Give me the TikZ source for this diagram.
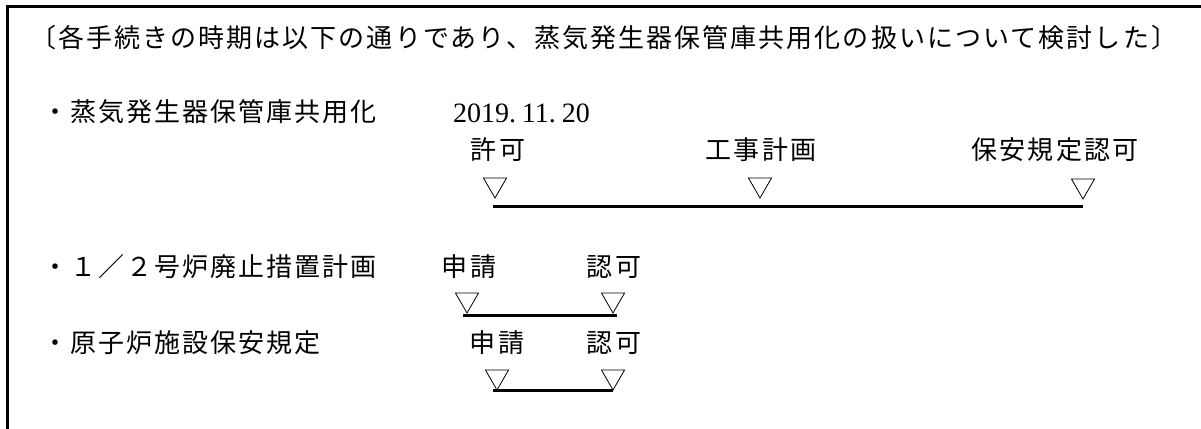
\documentclass[tikz,border=0pt]{standalone}
\usepackage{fontspec}
\newfontfamily\jp{Noto Sans CJK JP}[LetterSpace=8]
\newfontfamily\lat{Liberation Serif}
\usetikzlibrary{shapes.geometric}
\tikzset{
  txt/.style={inner sep=0pt, outer sep=0pt, font=\jp\fontsize{26}{30}\selectfont},
  numtxt/.style={inner sep=0pt, outer sep=0pt, font=\lat\fontsize{28}{32}\selectfont},
  tri/.style={regular polygon, regular polygon sides=3, shape border rotate=180,
    minimum size=26.6pt, inner sep=0pt, outer sep=0pt, draw, line width=0.8pt},
  tline/.style={line width=3pt},
  framel/.style={line width=3pt}
}
\begin{document}
\begin{tikzpicture}[x=1pt,y=-1pt]
\useasboundingbox (0,0) rectangle (1201,428);
% frame (top and left only)
\coordinate (fbl) at (7,432);
\coordinate (ftl) at (7,7);
\coordinate (ftr) at (1205,7);
\draw[framel] (fbl) -- (ftl) -- (ftr);
% header
\node[txt, anchor=west] (hdr) at (30,38) {〔各手続きの時期は以下の通りであり、蒸気発生器保管庫共用化の扱いについて検討した〕};
% row 1
\node[txt, anchor=west] (r1) at (42,112) {・蒸気発生器保管庫共用化};
\node[numtxt, anchor=west] (date) at (453,113) {2019.\kern6pt 11.\kern6pt 20};
\node[txt] (r1a) at (498,150) {許可};
\node[txt] (r1b) at (761,150) {工事計画};
\node[txt] (r1c) at (1055,150) {保安規定認可};
\node[tri, anchor=corner 1] (t1a) at (495,198) {};
\node[tri, anchor=corner 1] (t1b) at (760,198) {};
\node[tri, anchor=corner 1] (t1c) at (1083,199) {};
\draw[tline] ([xshift=-2pt,yshift=-8pt]t1a.corner 1) -- ([yshift=-7pt]t1c.corner 1);
% row 2
\node[txt, anchor=west] (r2) at (42,267) {・１／２号炉廃止措置計画};
\node[txt] (r2a) at (469,267) {申請};
\node[txt] (r2b) at (614,267) {認可};
\node[tri, anchor=corner 1] (t2a) at (467,313) {};
\node[tri, anchor=corner 1] (t2b) at (613,313) {};
\draw[tline] ([xshift=-4pt,yshift=-2pt]t2a.corner 1) -- ([xshift=4pt,yshift=-2pt]t2b.corner 1);
% row 3
\node[txt, anchor=west] (r3) at (42,343) {・原子炉施設保安規定};
\node[txt] (r3a) at (497,343) {申請};
\node[txt] (r3b) at (614,343) {認可};
\node[tri, anchor=corner 1] (t3a) at (497,390) {};
\node[tri, anchor=corner 1] (t3b) at (613,390) {};
\draw[tline] ([xshift=-4pt]t3a.corner 1) -- (t3b.corner 1);
\end{tikzpicture}
\end{document}
